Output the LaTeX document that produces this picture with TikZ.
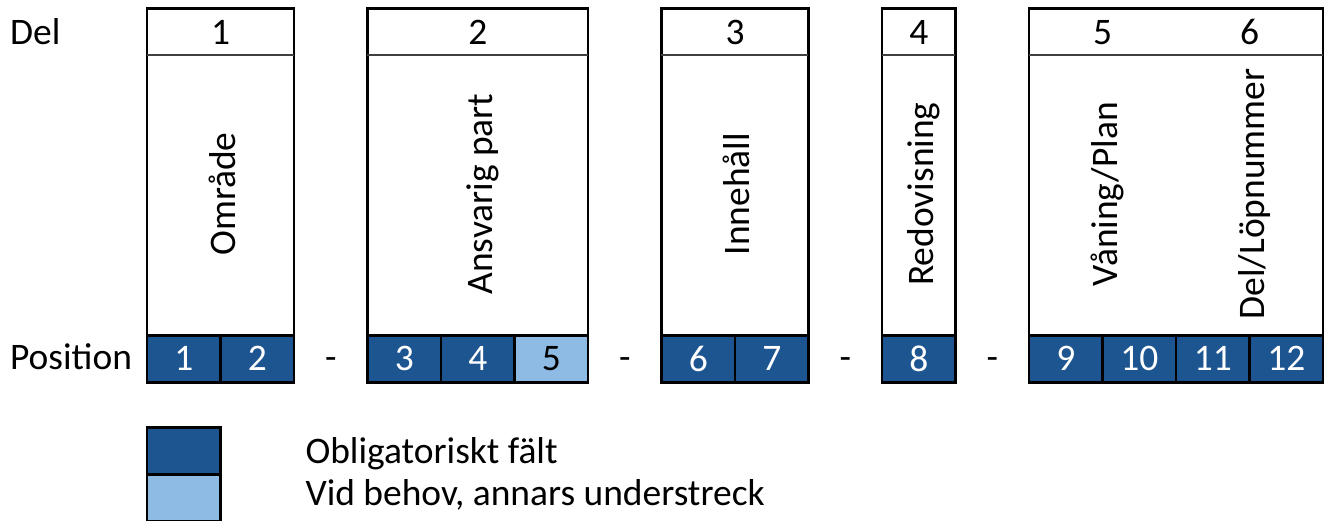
\documentclass[tikz,border=0pt]{standalone}
\usepackage{fontspec}
\setmainfont{Carlito}
\definecolor{oblblue}{HTML}{1D5591}
\definecolor{vidblue}{HTML}{8DBBE3}
\newcommand\bigtext{\fontsize{14.5}{17}\selectfont}

\begin{document}
\begin{tikzpicture}[
    frame/.style={draw=black,line width=1.1pt},
    cell/.style={frame,fill=oblblue,text=white,minimum width=1cm,minimum height=0.64cm,inner sep=0pt,font=\bigtext},
    optcell/.style={fill=vidblue,text=black},
    lbl/.style={anchor=base,inner sep=0pt,font=\bigtext},
    vlbl/.style={lbl,rotate=90}]
        \useasboundingbox (0,0) rectangle (18.014,-7.075);

          % the parts, with their header line
          \foreach \a/\b in {2/4,5/8,9/11,12/13,14/18}{
            \draw[frame] (\a,-0.11) rectangle (\b,-4.56);
            \draw[draw=black!75,line width=0.6pt] (\a,-0.75) -- (\b,-0.75);
          }

          \node[lbl,anchor=base west] (del) at (0.13,-0.61) {Del};
          \node[lbl,anchor=base west] (position) at (0.13,-5.03) {Position};

          \foreach \x/\n in {3/1,6.5/2,10/3,12.5/4,15/5,17/6}{
            \node[lbl] (del\n) at (\x,-0.61) {\n};
          }

          \foreach \x/\t [count=\i] in {3/Område,6.5/Ansvarig part,10/Innehåll,12.5/Redovisning,15/{Våning/Plan},17/{Del/Löpnummer}}{
            \node[vlbl] (name\i) at (\x+0.2,-2.64) {\t};
          }

          % positions
          \foreach \x/\n in {2/1,3/2,5/3,6/4,9/6,10/7,12/8,14/9,15/10,16/11,17/12}{
            \node[cell] (pos\n) at (\x+0.5,-4.88) {\n};
          }
          \node[cell,optcell] (pos5) at (7.5,-4.88) {5};

          \foreach \x [count=\i] in {4.5,8.5,11.5,13.5}{
            \node[lbl] (dash\i) at (\x,-5.03) {-};
          }

          % legend
          \node[cell] (legobl) at (2.5,-6.14) {};
          \node[cell,optcell] (legvid) at (2.5,-6.78) {};
          \node[lbl,anchor=base west] (legtxt1) at (4.15,-6.30) {Obligatoriskt fält};
          \node[lbl,anchor=base west] (legtxt2) at (4.15,-6.88) {Vid behov, annars understreck};
        \end{tikzpicture}
\end{document}
